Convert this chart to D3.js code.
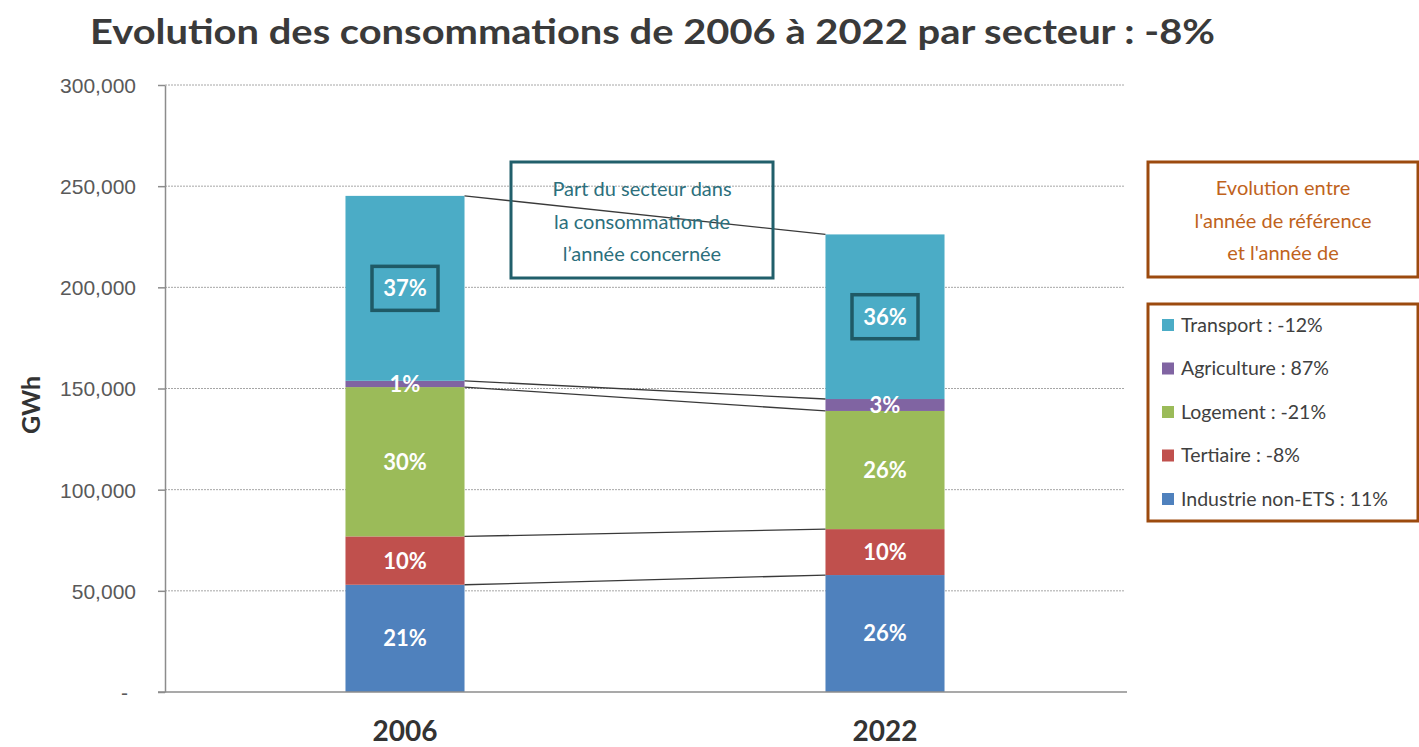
<!DOCTYPE html>
<html>
<head>
<meta charset="utf-8">
<script src="https://cdn.jsdelivr.net/npm/d3@7"></script>
<style>
	body { margin:0; background:#fff; }
	svg { display:block; font-family: Lato, "Open Sans", sans-serif; }
</style>
</head>
<body>
<div id="chart"></div>
<script>

//data
const years = ["2006", "2022"];
const sectors = ["Industrie non-ETS", "Tertiaire", "Logement", "Agriculture", "Transport"];
const industrie = [53000, 57800];
const tertiaire = [23900, 22700];
const logement = [73800, 58400];
const agriculture = [3100, 5900];
const transport = [91400, 81350];

//share labels (as printed) and evolution per sector
const shareIndustrie = ["21%", "26%"];
const shareTertiaire = ["10%", "10%"];
const shareLogement = ["30%", "26%"];
const shareAgriculture = ["1%", "3%"];
const shareTransport = ["37%", "36%"];
const evolution = ["11%", "-8%", "-21%", "87%", "-12%"];

const yTicks = [0, 50000, 100000, 150000, 200000, 250000, 300000];
const colors = ["#4F81BD", "#C0504D", "#9BBB59", "#8064A2", "#4BACC6"];

const titleText = "Evolution des consommations de 2006 à 2022 par secteur : -8%";
const noteLines = ["Part du secteur dans", "la consommation de", "l\u2019année concernée"];
const evoLines = ["Evolution entre", "l'année de référence", "et l'année de"];

//sizing
const width = 1419, height = 747;
const margin = {top:85, right:294, bottom:55, left:165};

let svg = d3.select("#chart")
	.append("svg")
	.attr("width", width)
	.attr("height", height);

//build table for stack
const table = years.map((y, i) => ({
	year: y,
	"Industrie non-ETS": industrie[i],
	"Tertiaire": tertiaire[i],
	"Logement": logement[i],
	"Agriculture": agriculture[i],
	"Transport": transport[i]
}));
const shares = [shareIndustrie, shareTertiaire, shareLogement, shareAgriculture, shareTransport];

const series = d3.stack().keys(sectors)(table);

//scales
const xScale = d3.scaleBand()
	.domain(years)
	.range([margin.left, width - margin.right])
	.padding(0);
const barW = xScale.bandwidth() * 0.248;

const yScale = d3.scaleLinear()
	.domain([0, 300000])
	.range([height - margin.bottom, margin.top]);

//gridlines
svg.append("g")
	.selectAll("line")
	.data(yTicks.slice(1))
	.join("line")
	.attr("x1", margin.left)
	.attr("x2", width - margin.right)
	.attr("y1", d => yScale(d))
	.attr("y2", d => yScale(d))
	.attr("stroke", "#a6a6a6")
	.attr("stroke-width", 1)
	.attr("stroke-dasharray", "2,1");

//y axis
const fmt = d3.format(",");
const yAxis = d3.axisLeft(yScale)
	.tickValues(yTicks)
	.tickSize(7)
	.tickSizeOuter(0)
	.tickFormat(d => d === 0 ? "-" : fmt(d));

let gy = svg.append("g")
	.attr("class", "axis y_axis")
	.attr("transform", `translate(${margin.left},0)`)
	.call(yAxis);
gy.select(".domain").attr("stroke", "#8c8c8c").attr("stroke-width", 1.5);
gy.selectAll(".tick line").attr("stroke", "#8c8c8c").attr("stroke-width", 1.5);
gy.selectAll("text")
	.attr("x", -29)
	.attr("dy", "0.35em")
	.attr("fill", "#595959")
	.style("font-size", "21px");
gy.selectAll(".tick")
	.filter(d => d === 0)
	.select("text")
	.attr("x", -37);

//bars
let layers = svg.append("g")
	.selectAll("g")
	.data(series)
	.join("g")
	.attr("fill", (d, i) => colors[i]);

layers.selectAll("rect")
	.data(d => d)
	.join("rect")
	.attr("x", d => xScale(d.data.year) + xScale.bandwidth() / 2 - barW / 2)
	.attr("y", d => yScale(d[1]))
	.attr("width", barW)
	.attr("height", d => yScale(d[0]) - yScale(d[1]));

//x axis line
svg.append("line")
	.attr("x1", margin.left - 7)
	.attr("x2", width - margin.right + 2)
	.attr("y1", yScale(0))
	.attr("y2", yScale(0))
	.attr("stroke", "#8c8c8c")
	.attr("stroke-width", 1.5);

//connector lines between bars
const x0 = xScale(years[0]) + xScale.bandwidth() / 2 + barW / 2;
const x1 = xScale(years[1]) + xScale.bandwidth() / 2 - barW / 2;
svg.append("g")
	.selectAll("line")
	.data(series)
	.join("line")
	.attr("x1", x0)
	.attr("x2", x1)
	.attr("y1", d => yScale(d[0][1]))
	.attr("y2", d => yScale(d[1][1]))
	.attr("stroke", "#3a3a3a")
	.attr("stroke-width", 1.3);

//annotation box
const note = {x:511, y:162, w:262, h:116};
svg.append("rect")
	.attr("x", note.x).attr("y", note.y)
	.attr("width", note.w).attr("height", note.h)
	.attr("fill", "none")
	.attr("stroke", "#215f6b")
	.attr("stroke-width", 3);
svg.append("g")
	.selectAll("text")
	.data(noteLines)
	.join("text")
	.attr("x", note.x + note.w / 2)
	.attr("y", (d, i) => note.y + 27 + i * 32.5)
	.attr("dy", "0.35em")
	.attr("text-anchor", "middle")
	.attr("fill", "#2c6f7c")
	.style("font-size", "20px")
	.text(d => d);

//share labels
series.forEach((s, k) => {
	s.forEach((d, i) => {
		const cx = xScale(d.data.year) + xScale.bandwidth() / 2;
		const cy = (yScale(d[0]) + yScale(d[1])) / 2;
		if (k === 4) {
			svg.append("rect")
				.attr("x", cx - 33).attr("y", cy - 22)
				.attr("width", 66).attr("height", 44)
				.attr("fill", "none")
				.attr("stroke", "#1f5a66")
				.attr("stroke-width", 3.5);
		}
		svg.append("text")
			.attr("x", cx)
			.attr("y", cy)
			.attr("dy", "0.36em")
			.attr("text-anchor", "middle")
			.attr("fill", "#fff")
			.style("font-size", "22px")
			.style("font-weight", "bold")
			.text(shares[k][i]);
	});
});

//x labels
svg.append("g")
	.selectAll("text")
	.data(years)
	.join("text")
	.attr("x", d => xScale(d) + xScale.bandwidth() / 2)
	.attr("y", 741)
	.attr("text-anchor", "middle")
	.attr("fill", "#333")
	.style("font-size", "28px")
	.style("font-weight", "bold")
	.text(d => d);

//y label
svg.append("text")
	.attr("transform", "translate(40,405) rotate(-90)")
	.attr("text-anchor", "middle")
	.attr("fill", "#333")
	.style("font-size", "25px")
	.style("font-weight", "bold")
	.text("GWh");

//title
let title = svg.append("text")
	.attr("x", 90)
	.attr("y", 44)
	.attr("fill", "#3a3a3a")
	.style("font-size", "34px")
	.style("font-weight", "bold")
	.text(titleText);
const tw = title.node().getComputedTextLength();
if (Math.abs(tw - 1125) > 10) {
	title.attr("textLength", 1125).attr("lengthAdjust", "spacingAndGlyphs");
}

//evolution box
const evo = {x:1148, y:162, w:270, h:115};
svg.append("rect")
	.attr("x", evo.x).attr("y", evo.y)
	.attr("width", evo.w).attr("height", evo.h)
	.attr("fill", "none")
	.attr("stroke", "#9c4a0e")
	.attr("stroke-width", 3);
svg.append("g")
	.selectAll("text")
	.data(evoLines)
	.join("text")
	.attr("x", evo.x + evo.w / 2)
	.attr("y", (d, i) => evo.y + 26 + i * 32.5)
	.attr("dy", "0.35em")
	.attr("text-anchor", "middle")
	.attr("fill", "#c0631c")
	.style("font-size", "20px")
	.text(d => d);

//legend
const leg = {x:1148, y:304, w:270, h:217};
svg.append("rect")
	.attr("x", leg.x).attr("y", leg.y)
	.attr("width", leg.w).attr("height", leg.h)
	.attr("fill", "none")
	.attr("stroke", "#9c4a0e")
	.attr("stroke-width", 3);

const legendIdx = [4, 3, 2, 1, 0];
let legend = svg.append("g")
	.selectAll("g")
	.data(legendIdx)
	.join("g")
	.attr("transform", (d, i) => `translate(${leg.x + 14},${leg.y + 21 + i * 43.5})`);

legend.append("rect")
	.attr("x", 0).attr("y", -6)
	.attr("width", 12).attr("height", 12)
	.attr("fill", d => colors[d]);

legend.append("text")
	.attr("x", 19)
	.attr("dy", "0.35em")
	.attr("fill", "#404040")
	.style("font-size", "19.5px")
	.text(d => `${sectors[d]} : ${evolution[d]}`);

</script>
</body>
</html>
